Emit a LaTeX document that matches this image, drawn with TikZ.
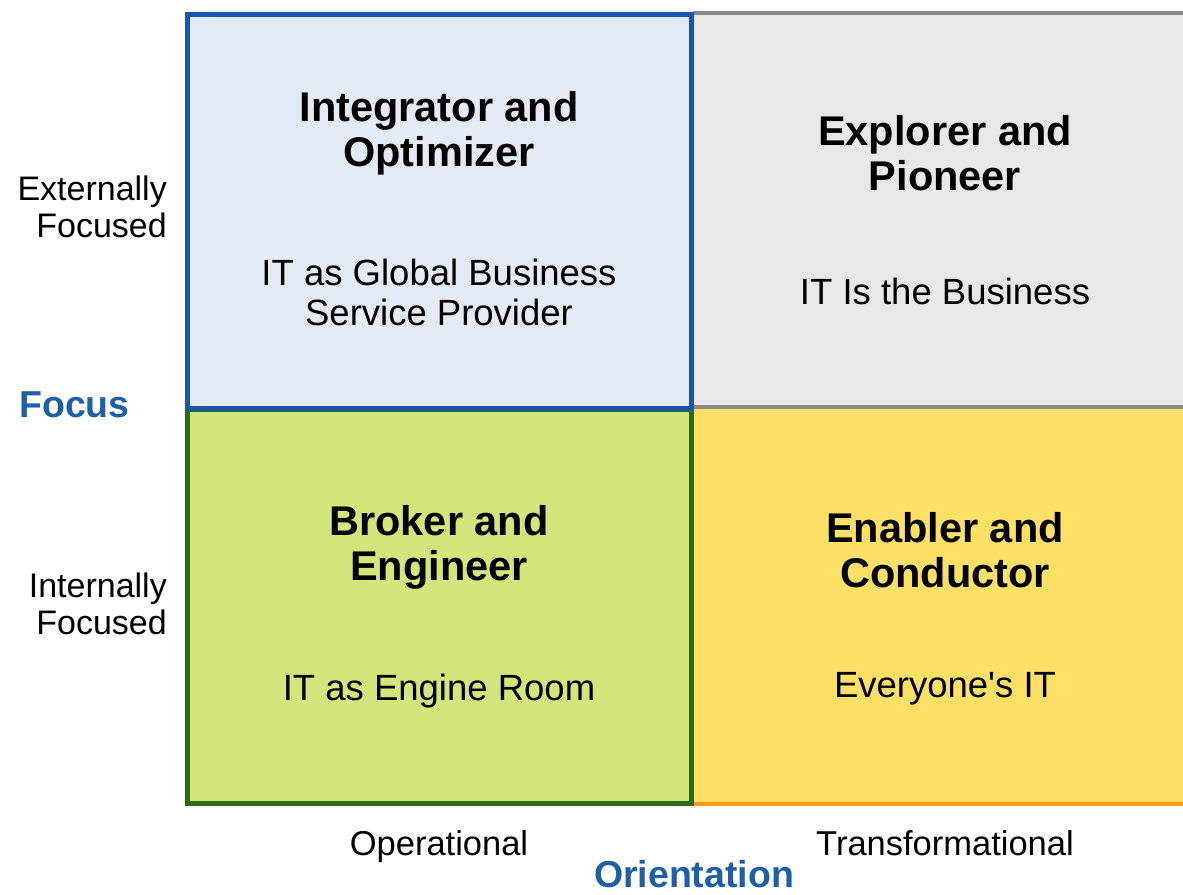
\documentclass[tikz,border=0pt]{standalone}
\usepackage{fontspec}
\setmainfont{Liberation Sans}[Ligatures=TeXOff]
\definecolor{tlfill}{HTML}{E4EAF6}
\definecolor{tlline}{HTML}{1A56A8}
\definecolor{trfill}{HTML}{E8E8E8}
\definecolor{trline}{HTML}{8A8A8A}
\definecolor{blfill}{HTML}{D2E67B}
\definecolor{blline}{HTML}{2D6A12}
\definecolor{brfill}{HTML}{FFE066}
\definecolor{brline}{HTML}{FF9A10}
\definecolor{axisblue}{HTML}{1F5FAA}
\tikzset{
  title/.style={align=center, font=\fontsize{41.5}{45}\selectfont\bfseries, inner sep=0pt},
  sub/.style={align=center, font=\fontsize{36.5}{40}\selectfont, inner sep=0pt},
  side/.style={align=right, font=\fontsize{34}{37}\selectfont, inner sep=0pt, anchor=east},
  axislabel/.style={font=\fontsize{37.5}{40}\selectfont\bfseries, text=axisblue, inner sep=0pt},
  bottom/.style={font=\fontsize{34.5}{38}\selectfont, inner sep=0pt, anchor=base},
}
\begin{document}
\begin{tikzpicture}[x=1pt,y=-1pt]
\useasboundingbox (0,0) rectangle (1183,894);
% fills
\fill[trfill] (693,12) rectangle (1183,409);
\fill[brfill] (693,409) rectangle (1183,806);
\fill[tlfill] (185,12) rectangle (693,409);
\fill[blfill] (185,409) rectangle (693,806);
% right-side lines
\draw[trline, line width=4] (693,13) -- (1183,13);
\draw[trline, line width=4] (693,407) -- (1183,407);
\draw[brline, line width=4] (693,804) -- (1183,804);
% left boxes borders
\draw[blline, line width=5] (187.5,409) rectangle (691.5,803.5);
\draw[tlline, line width=5] (187.5,14.5) rectangle (691.5,408);
% quadrant texts
\node[title] (t1) at (439,133) {Integrator and\\Optimizer};
\node[sub] (s1) at (439,292) {IT as Global Business\\Service Provider};
\node[title] (t2) at (945,153) {Explorer and\\Pioneer};
\node[sub] (s2) at (945,291) {IT Is the Business};
\node[title] (t3) at (439,547) {Broker and\\Engineer};
\node[sub] (s3) at (439,691) {IT as Engine Room};
\node[title] (t4) at (945,550) {Enabler and\\Conductor};
\node[sub] (s4) at (945,689) {Everyone's IT};
% side labels
\node[side] (ext) at (167,207) {Externally\\Focused};
\node[side] (int) at (167,604) {Internally\\Focused};
\node[axislabel, anchor=west] (focus) at (19,405) {Focus};
% bottom labels
\node[bottom] (op) at (439,855) {Operational};
\node[bottom] (tr) at (945,855) {Transformational};
\node[axislabel, anchor=base] (ori) at (694,887) {Orientation};
\end{tikzpicture}
\end{document}
